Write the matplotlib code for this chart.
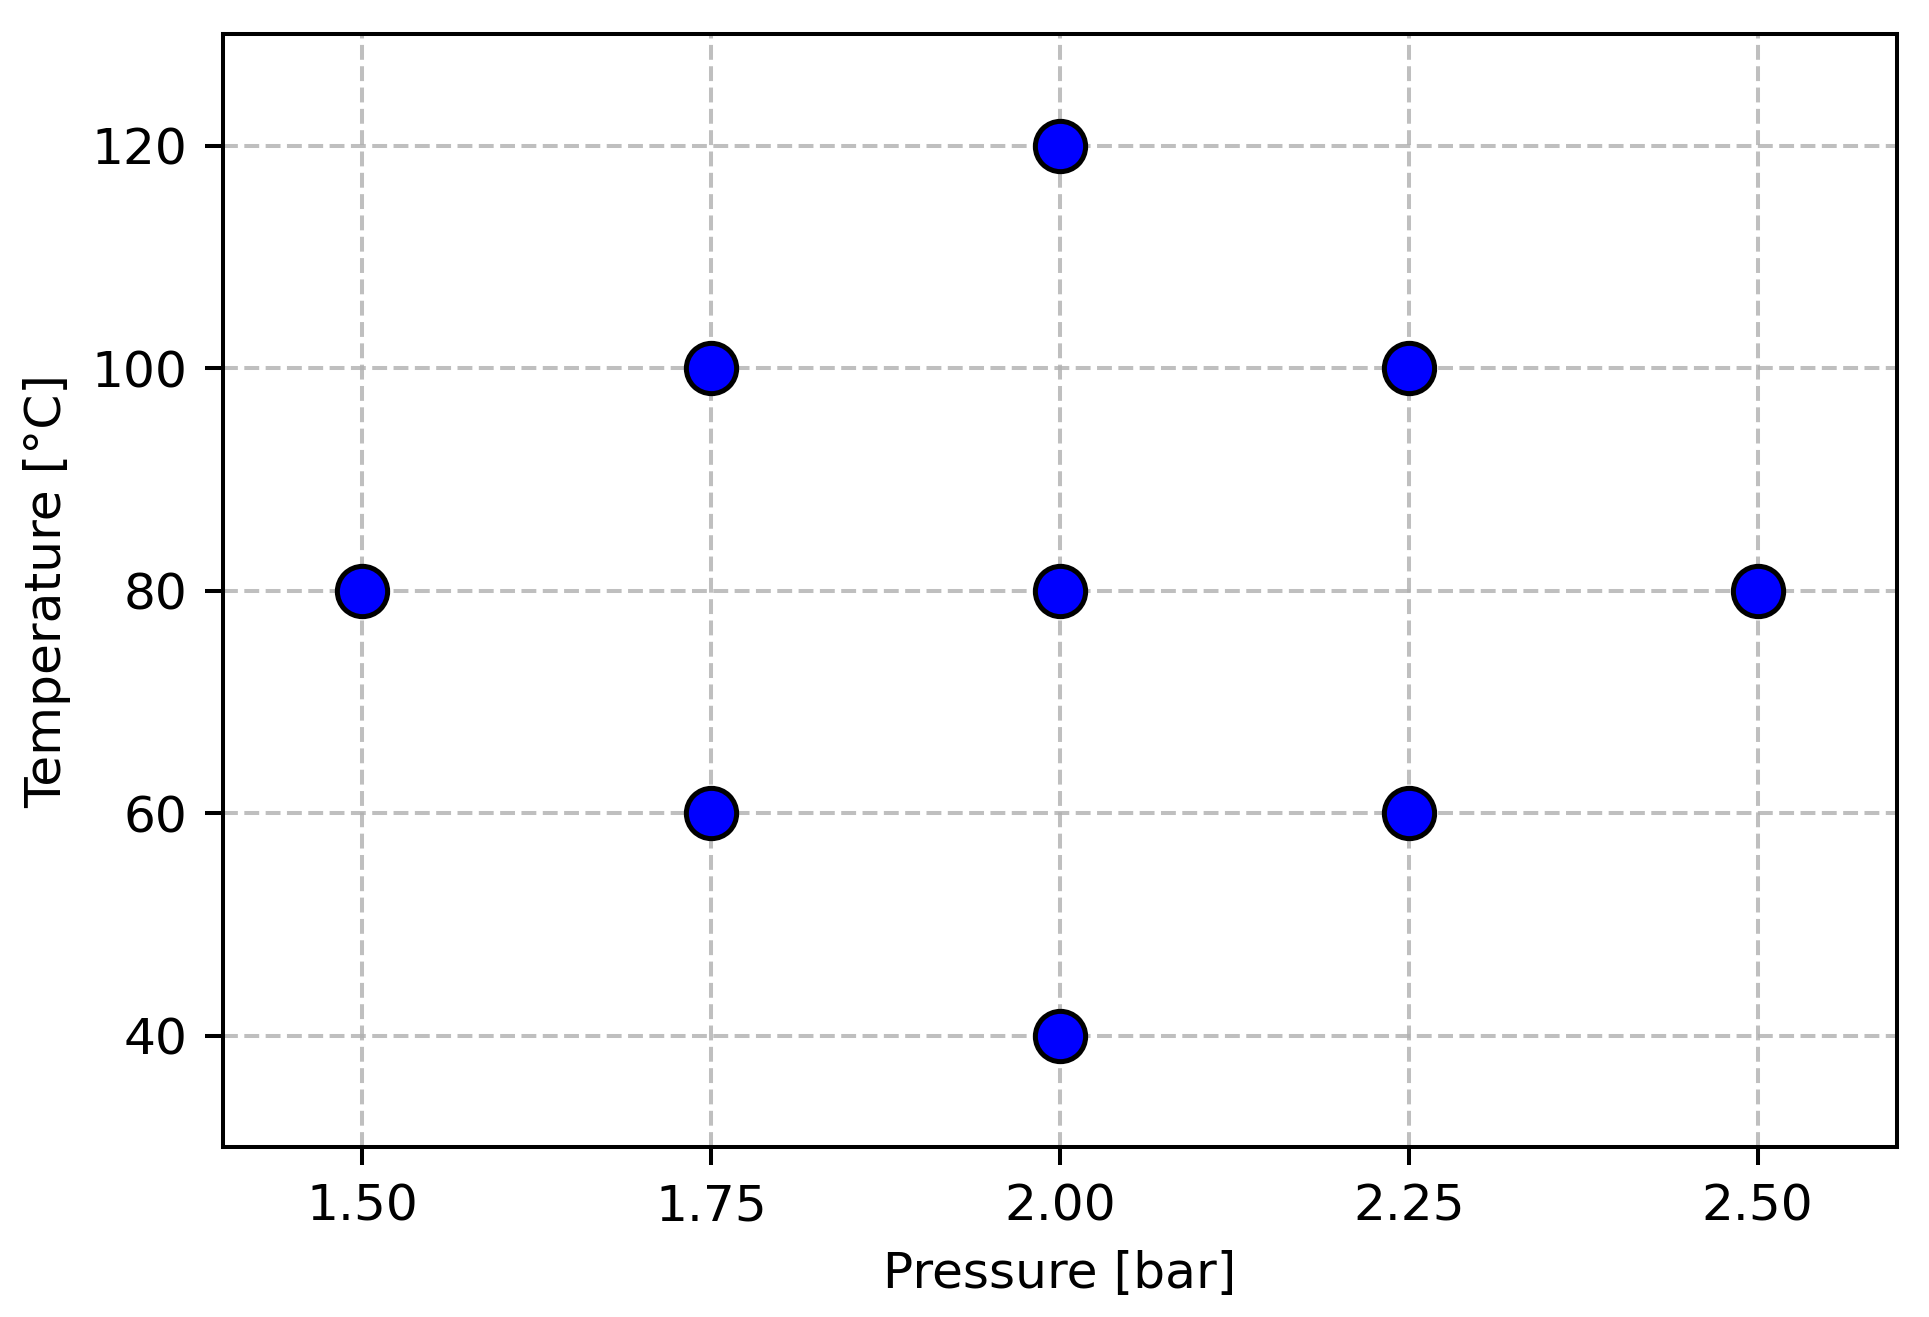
import matplotlib
matplotlib.use("Agg")
import matplotlib.pyplot as plt

# Messpunkte (Druck / Temperatur)
pressure = [1.50, 1.75, 1.75, 2.00, 2.00, 2.00, 2.25, 2.25, 2.50]
temperature = [80, 100, 60, 120, 80, 40, 100, 60, 80]

x_ticks = [1.50, 1.75, 2.00, 2.25, 2.50]
y_ticks = [40, 60, 80, 100, 120]

DPI = 362
fig = plt.figure(figsize=(1930 / DPI, 1317 / DPI), dpi=DPI)
ax = fig.add_axes([0.1155, 0.129, 0.8675, 0.845])

ax.scatter(pressure, temperature, s=100, c='blue', edgecolors='black',
           linewidths=1, zorder=3)

ax.set_xlim(1.4, 2.6)
ax.set_ylim(30, 130)
ax.set_xticks(x_ticks)
ax.set_yticks(y_ticks)
ax.set_xlabel("Pressure [bar]")
ax.set_ylabel("Temperature [°C]")
ax.grid(True, linestyle='--', alpha=0.8)

fig.savefig("out.png", dpi=DPI)
